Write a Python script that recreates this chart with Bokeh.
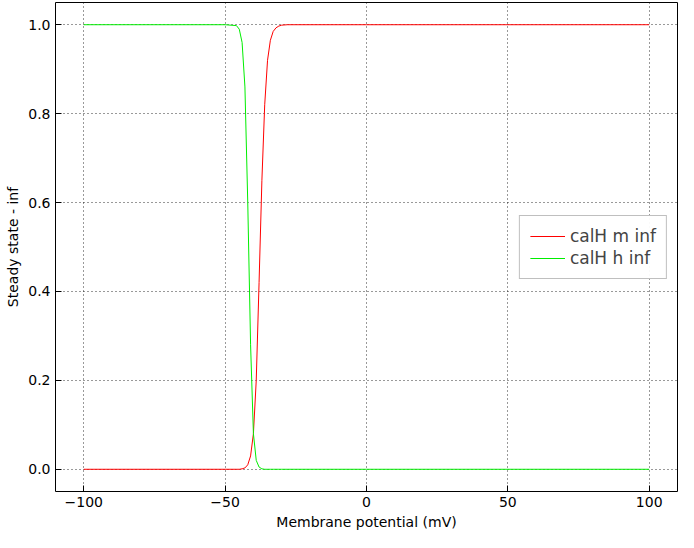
from bokeh.plotting import figure
from bokeh.models import FixedTicker, Range1d, Legend, LegendItem, CustomJSTickFormatter
from bokeh.embed import file_html
from bokeh.resources import INLINE

# values
v = [-100, -60, -50, -46, -45, -44, -43, -42, -41, -40, -39, -38, -37, -36,
     -35, -34, -33, -32, -31, -30, -28, -25, 0, 50, 100]
m_inf = [0.0, 0.0, 0.0, 0.0, 0.0, 0.001, 0.003, 0.01, 0.03, 0.08, 0.2, 0.42,
         0.65, 0.82, 0.92, 0.965, 0.985, 0.993, 0.997, 0.999, 1.0, 1.0, 1.0, 1.0, 1.0]
h_inf = [1.0, 1.0, 1.0, 0.998, 0.99, 0.96, 0.86, 0.6, 0.28, 0.08, 0.02, 0.005,
         0.001, 0.0, 0.0, 0.0, 0.0, 0.0, 0.0, 0.0, 0.0, 0.0, 0.0, 0.0, 0.0]

p = figure(width=678, height=532, output_backend="svg", toolbar_location=None,
           x_range=Range1d(-110, 110), y_range=Range1d(-0.05, 1.05),
           x_axis_label="Membrane potential (mV)", y_axis_label="Steady state - inf",
           min_border_left=55, min_border_right=1, min_border_top=2, min_border_bottom=40)
p.outline_line_color = "black"
p.outline_line_width = 1

r1 = p.line(v, m_inf, line_color="red", line_width=1)
r2 = p.line(v, h_inf, line_color="#00ee00", line_width=1)

p.xaxis.ticker = FixedTicker(ticks=[-100, -50, 0, 50, 100])
p.yaxis.ticker = FixedTicker(ticks=[0.0, 0.2, 0.4, 0.6, 0.8, 1.0])
p.xaxis.formatter = CustomJSTickFormatter(code="return tick < 0 ? '\u2212' + Math.abs(tick) : '' + tick;")
p.yaxis.formatter = CustomJSTickFormatter(code="return tick.toFixed(1);")
for ax in (p.xaxis, p.yaxis):
    ax.major_tick_in = 6
    ax.major_tick_out = 0
    ax.minor_tick_line_color = None
    ax.axis_line_color = None
    ax.major_label_text_font = "DejaVu Sans"
    ax.major_label_text_font_size = "14px"
    ax.axis_label_text_font = "DejaVu Sans"
    ax.axis_label_text_font_size = "14px"
    ax.axis_label_text_font_style = "normal"
    ax.axis_label_text_color = "black"
    ax.major_label_text_color = "black"
    ax.axis_label_standoff = 4
p.grid.grid_line_color = "black"
p.grid.grid_line_dash = "1 3"
p.grid.grid_line_alpha = 0.8

legend = Legend(items=[LegendItem(label="calH m inf", renderers=[r1]),
                       LegendItem(label="calH h inf", renderers=[r2])],
                location="center_right", label_text_font="DejaVu Sans",
                label_text_font_size="17px", border_line_color="gray",
                glyph_width=35, spacing=2, margin=10)
p.add_layout(legend)

open("out.html", "w").write(file_html(p, INLINE))
